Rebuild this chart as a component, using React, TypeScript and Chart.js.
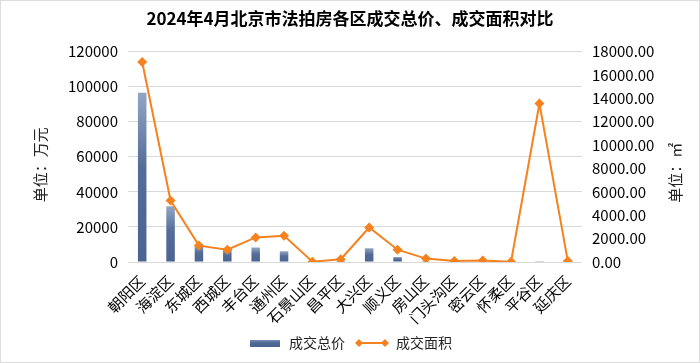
import React, { useEffect, useRef } from 'react';
import { Chart, registerables } from 'chart.js';

Chart.register(...registerables);

const categories = ['朝阳区', '海淀区', '东城区', '西城区', '丰台区', '通州区', '石景山区', '昌平区', '大兴区', '顺义区', '房山区', '门头沟区', '密云区', '怀柔区', '平谷区', '延庆区'];
const totalPrice = [96500, 31700, 9800, 7400, 8200, 6100, 150, 500, 7800, 2900, 450, 100, 300, 0, 400, 0];
const totalArea = [17100, 5250, 1400, 1050, 2100, 2250, 30, 240, 2950, 1050, 290, 90, 120, 20, 13550, 80];
const seriesNames = ['成交总价', '成交面积'];
const titleText = '2024年4月北京市法拍房各区成交总价、成交面积对比';
const leftAxisTitle = '单位：万元';
const rightAxisTitle = '单位：㎡';
const leftMax = 120000;
const leftStep = 20000;
const rightMax = 18000;
const rightStep = 2000;

const FONT = "'Noto Sans CJK SC', 'Noto Sans', sans-serif";
const BAR_DARK = '#4e6895';
const LINE_COLOR = '#F5821F';

function makeBarSwatch(): HTMLCanvasElement {
  const c = document.createElement('canvas');
  c.width = 30;
  c.height = 7;
  const x = c.getContext('2d')!;
  const g = x.createLinearGradient(0, 0, 0, 7);
  g.addColorStop(0, '#8090b4');
  g.addColorStop(0.5, BAR_DARK);
  g.addColorStop(1, '#4a6390');
  x.fillStyle = g;
  x.fillRect(0, 0, 30, 7);
  return c;
}

function makeLineSwatch(): HTMLCanvasElement {
  const c = document.createElement('canvas');
  c.width = 36;
  c.height = 10;
  const x = c.getContext('2d')!;
  x.strokeStyle = LINE_COLOR;
  x.lineWidth = 2;
  x.beginPath();
  x.moveTo(4, 5);
  x.lineTo(32, 5);
  x.stroke();
  x.fillStyle = LINE_COLOR;
  const diamond = (cx: number) => {
    x.beginPath();
    x.moveTo(cx, 1);
    x.lineTo(cx + 4, 5);
    x.lineTo(cx, 9);
    x.lineTo(cx - 4, 5);
    x.closePath();
    x.fill();
  };
  diamond(5);
  diamond(31);
  return c;
}

const borderPlugin = {
  id: 'outerBorder',
  beforeDraw(chart: any) {
    const ctx = chart.ctx;
    ctx.save();
    ctx.fillStyle = '#ffffff';
    ctx.fillRect(0, 0, chart.width, chart.height);
    ctx.strokeStyle = '#dcdcdc';
    ctx.lineWidth = 1;
    ctx.strokeRect(0.5, 0.5, chart.width - 1, chart.height - 1);
    ctx.restore();
  },
};

// Draws both axis titles rotated -90deg (reading bottom to top), as in the reference.
const axisTitlesPlugin = {
  id: 'axisTitles',
  afterDraw(chart: any) {
    const ctx = chart.ctx;
    const area = chart.chartArea;
    const mid = (area.top + area.bottom) / 2;
    ctx.save();
    ctx.fillStyle = '#222';
    ctx.font = `15px ${FONT}`;
    ctx.textAlign = 'center';
    ctx.textBaseline = 'middle';
    ctx.save();
    ctx.translate(chart.scales.y.left + 40, mid + 8);
    ctx.rotate(-Math.PI / 2);
    ctx.fillText(leftAxisTitle, 0, 0);
    ctx.restore();
    ctx.save();
    ctx.translate(chart.scales.y1.right - 25, mid + 16);
    ctx.rotate(-Math.PI / 2);
    ctx.fillText(rightAxisTitle, 0, 0);
    ctx.restore();
    ctx.restore();
  },
};

export default function App() {
  const canvasRef = useRef<HTMLCanvasElement | null>(null);

  useEffect(() => {
    document.body.style.margin = '0';
    const canvas = canvasRef.current;
    if (!canvas) return;
    const barSwatch = makeBarSwatch();
    const lineSwatch = makeLineSwatch();

    const chart = new Chart(canvas, {
      type: 'bar',
      data: {
        labels: categories,
        datasets: [
          {
            type: 'bar',
            label: seriesNames[0],
            data: totalPrice,
            yAxisID: 'y',
            order: 2,
            barPercentage: 0.3,
            categoryPercentage: 1,
            backgroundColor: (ctx: any) => {
              const chart = ctx.chart;
              if (ctx.type !== 'data' || !chart.scales || !chart.scales.y) return BAR_DARK;
              const ys = chart.scales.y;
              const v = ctx.raw as number;
              const top = ys.getPixelForValue(v);
              const bottom = ys.getPixelForValue(0);
              if (!isFinite(top) || !isFinite(bottom) || bottom - top < 2) return BAR_DARK;
              const g = chart.ctx.createLinearGradient(0, top, 0, bottom);
              g.addColorStop(0, '#93a5c4');
              g.addColorStop(0.45, '#536c98');
              g.addColorStop(1, '#4a6390');
              return g;
            },
          } as any,
          {
            type: 'line',
            label: seriesNames[1],
            data: totalArea,
            yAxisID: 'y1',
            order: 1,
            borderColor: LINE_COLOR,
            backgroundColor: LINE_COLOR,
            borderWidth: 2,
            pointStyle: 'rectRot',
            pointRadius: 5,
            pointBorderWidth: 0,
            tension: 0,
          } as any,
        ],
      },
      options: {
        animation: false,
        responsive: false,
        maintainAspectRatio: false,
        layout: { padding: { left: 0, right: 0, top: 0, bottom: 3 } },
        plugins: {
          title: {
            display: true,
            text: titleText,
            color: '#000',
            font: { family: FONT, size: 17, weight: 'bold' },
            padding: { top: 8, bottom: 23 },
          },
          legend: {
            display: true,
            position: 'bottom',
            labels: {
              usePointStyle: true,
              pointStyleWidth: 34,
              padding: 10,
              color: '#222',
              font: { family: FONT, size: 14 },
              generateLabels: () => [
                { text: seriesNames[0], pointStyle: barSwatch as any, fillStyle: BAR_DARK, strokeStyle: 'rgba(0,0,0,0)', lineWidth: 0, hidden: false, datasetIndex: 0, fontColor: '#222' },
                { text: seriesNames[1], pointStyle: lineSwatch as any, fillStyle: LINE_COLOR, strokeStyle: 'rgba(0,0,0,0)', lineWidth: 0, hidden: false, datasetIndex: 1, fontColor: '#222' },
              ] as any,
            },
          },
          tooltip: { enabled: false },
        },
        scales: {
          x: {
            grid: { display: false },
            border: { display: false },
            ticks: {
              color: '#000',
              font: { family: FONT, size: 15 },
              minRotation: 45,
              maxRotation: 45,
              autoSkip: false,
              padding: 2,
            },
            afterFit: (scale: any) => {
              scale.height = 64;
            },
          },
          y: {
            position: 'left',
            min: 0,
            max: leftMax,
            grid: { color: '#d9d9d9', lineWidth: 1, drawTicks: false },
            border: { display: false },
            ticks: {
              stepSize: leftStep,
              color: '#000',
              padding: 10,
              font: { family: FONT, size: 15 },
              callback: (v: any) => String(v),
            },
            afterFit: (scale: any) => {
              scale.width = 128;
            },
          },
          y1: {
            position: 'right',
            min: 0,
            max: rightMax,
            grid: { display: false, drawTicks: false },
            border: { display: false },
            ticks: {
              stepSize: rightStep,
              color: '#000',
              padding: 10,
              font: { family: FONT, size: 15 },
              callback: (v: any) => Number(v).toFixed(2),
            },
            afterFit: (scale: any) => {
              scale.width = 118;
            },
          },
        },
      } as any,
      plugins: [borderPlugin, axisTitlesPlugin],
    });

    return () => {
      chart.destroy();
    };
  }, []);

  return (
    <div style={{ width: 700, height: 363, position: 'relative' }}>
      <canvas ref={canvasRef} width={700} height={363} style={{ display: 'block', width: 700, height: 363 }} />
    </div>
  );
}
